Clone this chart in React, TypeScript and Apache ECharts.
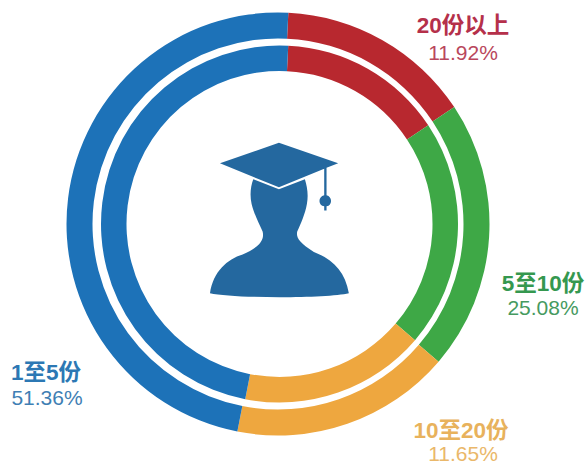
import React, { useEffect, useRef } from "react";
import * as echarts from "echarts";

const categories = ["20份以上", "5至10份", "10至20份", "1至5份"];
const sliceShares = [14.9, 20.6, 16.8, 47.7];
const printedPercents = ["11.92%", "25.08%", "11.65%", "51.36%"];
const sliceColors = ["#b8282f", "#3ea846", "#eea73f", "#1d72b8"];
const titleColors = ["#b5304a", "#35984f", "#e8b25c", "#2c78b4"];
const valueColors = ["#b9475c", "#469a60", "#eab86a", "#3f7fb4"];
const titleCenters = [[463, 25], [543, 283], [461, 430], [46, 372]];
const valueCenters = [[463, 52], [543, 307], [463, 453], [47, 397]];

const bodyPath =
  "M160 148 L237 178 L315 148 C322 170 326 195 321 222 C316 252 302 282 292 305 C288 322 298 340 342 366 C398 388 436 425 447 490 C380 506 100 506 30 490 C40 425 82 388 128 374 C168 356 196 335 188 305 C178 282 162 252 155 222 C149 195 152 170 160 148 Z";
const capPath =
  "M237 38 L415 100 L380 113 L380 196 C398 200 398 226 380 229 L380 242 L373 242 L373 229 C354 226 354 200 373 196 L373 116 L237 172 L60 100 Z";

echarts.graphic.registerShape("gradBody", echarts.graphic.extendPath(bodyPath, {}));
echarts.graphic.registerShape("gradCap", echarts.graphic.extendPath(capPath, {}));

const fontFamily = '"Liberation Sans", "Noto Sans CJK SC", sans-serif';

export default function App() {
  const ref = useRef<HTMLDivElement>(null);
  useEffect(() => {
    const chart = echarts.init(ref.current!, undefined, { renderer: "svg" });
    const data = categories.map((name, i) => ({
      name,
      value: sliceShares[i],
      itemStyle: { color: sliceColors[i] },
    }));
    const ring = (cx: number, radius: number[]) => ({
      type: "pie",
      center: [cx, 224],
      radius,
      startAngle: 87.2,
      clockwise: true,
      silent: true,
      label: { show: false },
      labelLine: { show: false },
      data,
    });
    const texts: any[] = [];
    categories.forEach((name, i) => {
      texts.push({
        type: "text",
        x: titleCenters[i][0],
        y: titleCenters[i][1],
        style: { text: name, fill: titleColors[i], font: `bold 22.5px ${fontFamily}`, align: "center", verticalAlign: "middle" },
      });
      texts.push({
        type: "text",
        x: valueCenters[i][0],
        y: valueCenters[i][1],
        style: { text: printedPercents[i], fill: valueColors[i], font: `21px ${fontFamily}`, align: "center", verticalAlign: "middle" },
      });
    });
    chart.setOption({
      animation: false,
      backgroundColor: "#ffffff",
      series: [ring(279.5, [153, 178.5]), ring(278, [185.5, 211.5])],
      graphic: [
        { type: "gradBody", x: 200, y: 130, scaleX: 1 / 3, scaleY: 1 / 3, style: { fill: "#24689f" } },
        { type: "gradCap", x: 200, y: 130, scaleX: 1 / 3, scaleY: 1 / 3, style: { fill: "#24689f" } },
        ...texts,
      ],
    });
    return () => chart.dispose();
  }, []);
  return <div ref={ref} style={{ position: "absolute", left: 0, top: 0, width: 587, height: 464 }} />;
}
